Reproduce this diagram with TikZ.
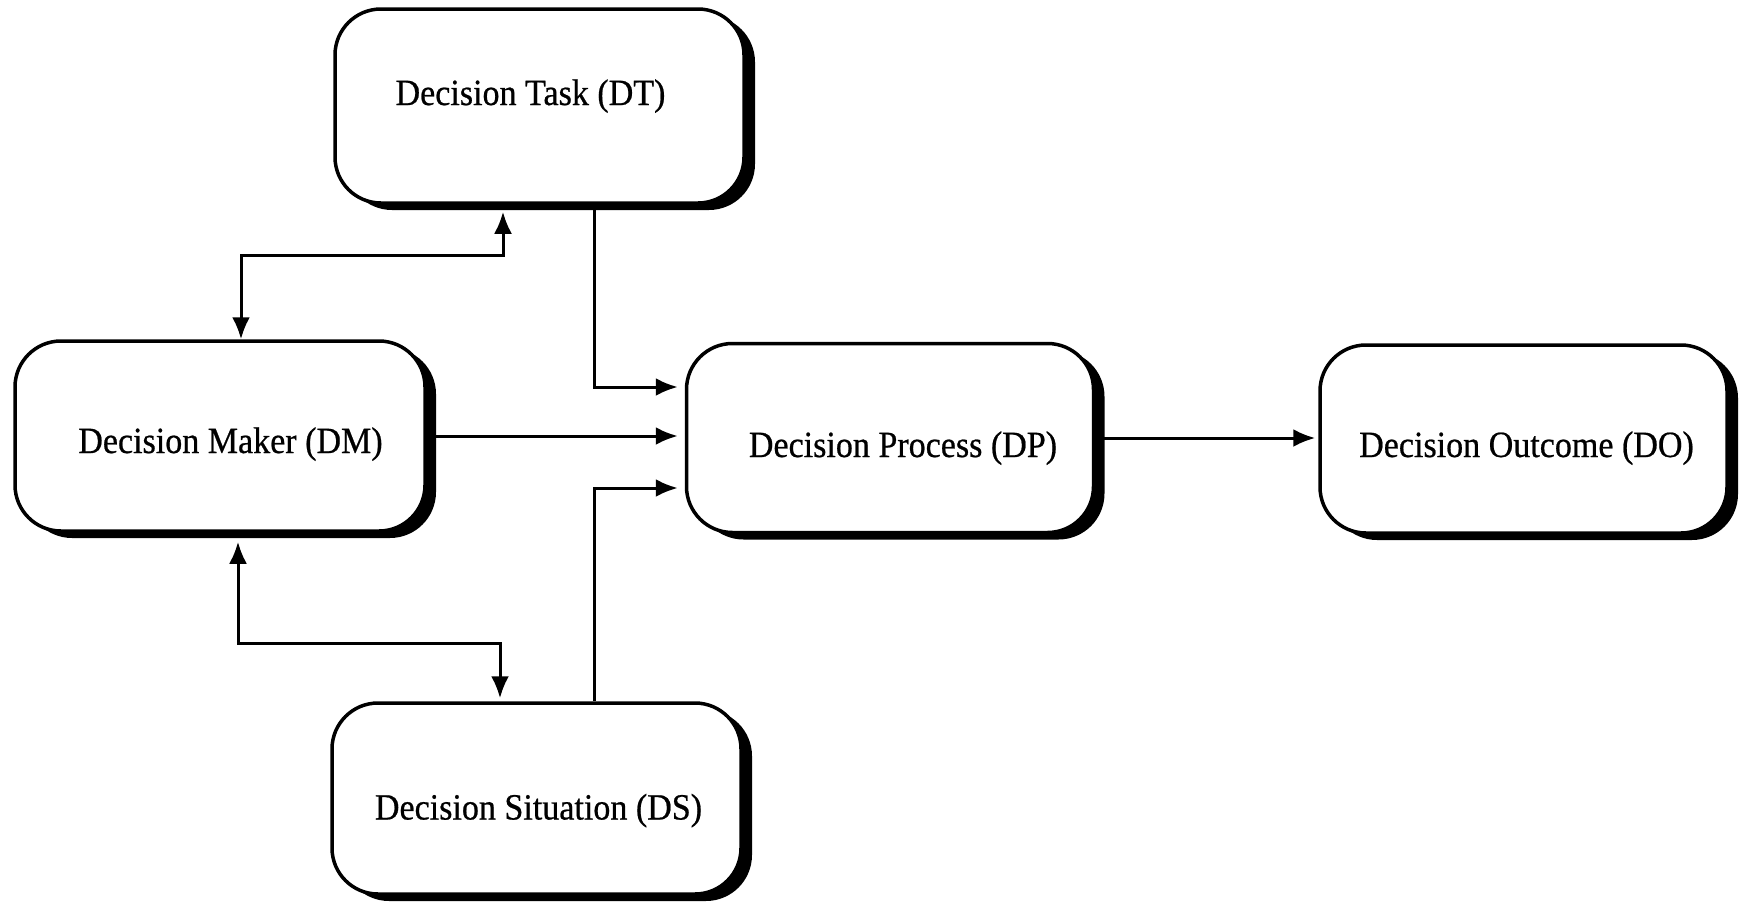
\documentclass[tikz,border=0pt]{standalone}
\usepackage{fontspec}
\setmainfont{Liberation Serif}[FakeStretch=0.92,FakeBold=0.6]
\usetikzlibrary{arrows.meta,shadows}
% box label: horizontal nudge (twice the offset), baseline drop from the centre
\newcommand\boxtext[3]{\hspace*{#1}\raisebox{#2}[0pt][0pt]{#3}}
\begin{document}
\begin{tikzpicture}[x=1pt,y=-1pt,
  box/.style={draw=black, line width=3.5pt, fill=white, rounded corners=46pt,
    drop shadow={shadow xshift=11pt, shadow yshift=-7pt, opacity=1, fill=black},
    font=\fontsize{37}{44}\selectfont, inner sep=0pt},
  tip/.style={Latex[length=22pt,width=18pt]},
  link/.style={line width=3pt, -{Latex[length=22pt,width=18pt]}},
  twoway/.style={line width=3pt, {Latex[length=22pt,width=18pt]}-{Latex[length=22pt,width=18pt]}}
]
\useasboundingbox (0,0) rectangle (1741,908);

% the five components
\node[box, minimum width=409pt, minimum height=194pt] (DT) at (539.5,106)
  {\boxtext{-18pt}{1pt}{Decision Task (DT)}};
\node[box, minimum width=410pt, minimum height=190pt] (DM) at (220,436)
  {\boxtext{21pt}{-17pt}{Decision Maker (DM)}};
\node[box, minimum width=407pt, minimum height=189pt] (DP) at (890,438)
  {\boxtext{26pt}{-19pt}{Decision Process (DP)}};
\node[box, minimum width=407pt, minimum height=188pt] (DO) at (1523.5,439)
  {\boxtext{6pt}{-18pt}{Decision Outcome (DO)}};
\node[box, minimum width=409pt, minimum height=191pt] (DS) at (536.5,798.5)
  {\boxtext{4pt}{-21pt}{Decision Situation (DS)}};

% bend points of the two-way links
\coordinate (jt) at (503,255);
\coordinate (js) at (500,643);

% inputs into the decision process
\draw[link, shorten >=7pt] ([xshift=54.5pt]DT.south) |- ([yshift=51pt]DP.west);
\draw[link, shorten >=7pt] (DM.east) -- (DM.east -| DP.west);
\draw[link, shorten >=7pt] ([xshift=57.5pt]DS.north) |- ([yshift=-50pt]DP.west);

% process to outcome
\draw[link, shorten >=3pt] (DP.east) -- (DP.east -| DO.west);

% two-way links of the decision maker
\draw[twoway, shorten >=7pt] ([xshift=21pt]DM.north) |- (jt) -- (jt |- DT.south);
\draw[twoway, shorten <=9pt, shorten >=3pt] ([xshift=18pt]DM.south) |- (js) -- (js |- DS.north);
\end{tikzpicture}
\end{document}
